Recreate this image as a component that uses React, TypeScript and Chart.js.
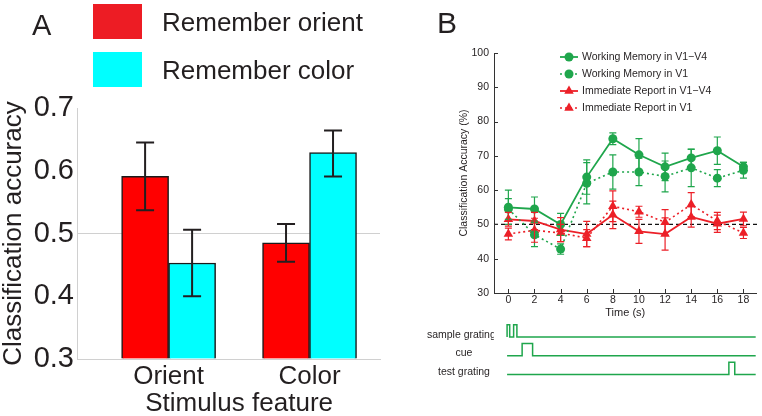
import React, { useEffect, useRef } from 'react';
import { Chart, registerables } from 'chart.js';

Chart.register(...registerables);

const FONT = '"Liberation Sans", Arial, Helvetica, sans-serif';
const INK = '#231f20';
const AXIS_GRAY = '#d0d0d0';
const BAR_EDGE = '#1a1a1a';
const RED_BAR = '#ff0000';
const CYAN_BAR = '#00ffff';
const RED_KEY = '#ed1c24';
const CYAN_KEY = '#00ffff';
const GREEN = '#1fa64c';
const RED = '#ec2028';

// ---------- Panel A data ----------
const featureLabels = ['Orient', 'Color'];
const featurePos = [1, 2];
const orientMean = [0.591, 0.485];
const orientLow = [0.537, 0.455];
const orientHigh = [0.645, 0.515];
const colorMean = [0.453, 0.629];
const colorLow = [0.4, 0.591];
const colorHigh = [0.506, 0.664];
const accuracyTicks = [0.3, 0.4, 0.5, 0.6, 0.7];
const chanceA = 0.5;

// ---------- Panel B data ----------
const timeTicks = [0, 2, 4, 6, 8, 10, 12, 14, 16, 18];
const accTicksB = [30, 40, 50, 60, 70, 80, 90, 100];
const wmAll = [55, 54.5, 50, 63.8, 75, 70.3, 66.8, 69.4, 71.5, 66.8];
const wmAllErr = [5, 3.5, 3.2, 5, 1.7, 4.7, 4, 2.5, 4, 1.3];
const wmV1 = [54.5, 47, 42.8, 62, 65.3, 65.3, 64, 66.5, 63.5, 65.8];
const wmV1Err = [3, 3.5, 1.5, 6, 5, 4, 4.5, 5.5, 2.5, 2.3];
const irAll = [51.5, 51, 48.5, 47.2, 52.8, 48, 47.2, 52.2, 50.2, 51.6];
const irAllErr = [2, 2.5, 3.5, 3.7, 4, 3.5, 4.7, 3, 2.5, 2];
const irV1 = [47.2, 48.3, 47.5, 46, 55.3, 53.7, 50.6, 55.8, 51, 47.5];
const irV1Err = [1.7, 3.5, 2.5, 2.5, 4.5, 1.6, 3.7, 3.5, 2.5, 1.6];
const chanceB = 50;

// ---------- Trial timeline ----------
const traceNames = ['sample gratings', 'cue', 'test grating'];
const traceOn = [
  [[-0.1, 0.1], [0.4, 0.65]],
  [[1.05, 1.85]],
  [[16.85, 17.3]],
];
const traceSpan = [-0.1, 18.9];
const pulseHeight = 0.65;

const X_MIN_B = -1.1;
const X_MAX_B = 19;

function drawMarker(ctx: any, style: string, x: number, y: number, r: number, color: string) {
  ctx.save();
  ctx.fillStyle = color;
  ctx.beginPath();
  if (style === 'triangle') {
    for (let k = 0; k < 3; k++) {
      const a = k * (2 * Math.PI / 3);
      const px = x + Math.sin(a) * r;
      const py = y - Math.cos(a) * r;
      if (k === 0) ctx.moveTo(px, py); else ctx.lineTo(px, py);
    }
    ctx.closePath();
  } else {
    ctx.arc(x, y, r, 0, Math.PI * 2);
  }
  ctx.fill();
  ctx.restore();
}

const panelAPlugin = {
  id: 'panelA',
  afterDatasetsDraw(chart: any) {
    const ctx = chart.ctx;
    const y = chart.scales.y;
    chart.data.datasets.forEach((ds: any, di: number) => {
      const meta = chart.getDatasetMeta(di);
      meta.data.forEach((bar: any, i: number) => {
        const top = y.getPixelForValue(ds.errHigh[i]);
        const bot = y.getPixelForValue(ds.errLow[i]);
        ctx.save();
        ctx.strokeStyle = INK;
        ctx.lineWidth = 2;
        ctx.beginPath();
        ctx.moveTo(bar.x, top); ctx.lineTo(bar.x, bot);
        ctx.moveTo(bar.x - 9, top); ctx.lineTo(bar.x + 9, top);
        ctx.moveTo(bar.x - 9, bot); ctx.lineTo(bar.x + 9, bot);
        ctx.stroke();
        ctx.restore();
      });
    });
  },
  afterDraw(chart: any) {
    const ctx = chart.ctx;
    ctx.save();
    ctx.fillStyle = INK;
    ctx.textBaseline = 'alphabetic';
    ctx.textAlign = 'left';
    // panel letter
    ctx.font = `29px ${FONT}`;
    ctx.fillText('A', 32, 35);
    // legend
    ctx.font = `26px ${FONT}`;
    chart.data.datasets.forEach((ds: any, i: number) => {
      const top = 4 + i * 48;
      ctx.fillStyle = ds.keyColor;
      ctx.fillRect(93, top, 49, 35);
      ctx.fillStyle = INK;
      ctx.fillText(ds.label, 162, top + 27);
    });
    // axis title centred under the bar groups
    const m0 = chart.getDatasetMeta(0).data[0];
    const ml = chart.getDatasetMeta(chart.data.datasets.length - 1).data;
    const last = ml[ml.length - 1];
    const cx = ((m0.x - m0.width / 2) + (last.x + last.width / 2)) / 2;
    ctx.textAlign = 'center';
    ctx.fillText('Stimulus feature', cx, 410.5);
    ctx.restore();
  },
};

const panelBPlugin = {
  id: 'panelB',
  beforeDatasetsDraw(chart: any) {
    const { ctx, chartArea } = chart;
    const py = chart.scales.y.getPixelForValue(chanceB);
    ctx.save();
    ctx.strokeStyle = '#111';
    ctx.lineWidth = 1.3;
    ctx.setLineDash([4, 3]);
    ctx.beginPath();
    ctx.moveTo(chartArea.left, py);
    ctx.lineTo(chartArea.right + 2, py);
    ctx.stroke();
    ctx.restore();
  },
  afterDatasetsDraw(chart: any) {
    const ctx = chart.ctx;
    const y = chart.scales.y;
    chart.data.datasets.forEach((ds: any, di: number) => {
      const meta = chart.getDatasetMeta(di);
      meta.data.forEach((pt: any, i: number) => {
        const v = ds.data[i].y;
        const top = y.getPixelForValue(v + ds.err[i]);
        const bot = y.getPixelForValue(v - ds.err[i]);
        ctx.save();
        ctx.strokeStyle = ds.borderColor;
        ctx.lineWidth = 1.2;
        ctx.beginPath();
        ctx.moveTo(pt.x, top); ctx.lineTo(pt.x, bot);
        ctx.moveTo(pt.x - 3.5, top); ctx.lineTo(pt.x + 3.5, top);
        ctx.moveTo(pt.x - 3.5, bot); ctx.lineTo(pt.x + 3.5, bot);
        ctx.stroke();
        ctx.restore();
      });
    });
  },
  afterDraw(chart: any) {
    const { ctx, chartArea } = chart;
    ctx.save();
    // inward tick marks
    ctx.strokeStyle = '#333';
    ctx.lineWidth = 1;
    ctx.beginPath();
    chart.scales.y.ticks.forEach((t: any) => {
      const py = Math.round(chart.scales.y.getPixelForValue(t.value)) + 0.5;
      ctx.moveTo(chartArea.left, py); ctx.lineTo(chartArea.left + 4, py);
    });
    chart.scales.x.ticks.forEach((t: any) => {
      const px = Math.round(chart.scales.x.getPixelForValue(t.value)) + 0.5;
      ctx.moveTo(px, chartArea.bottom); ctx.lineTo(px, chartArea.bottom - 4);
    });
    ctx.stroke();
    // panel letter
    ctx.fillStyle = INK;
    ctx.font = `30px ${FONT}`;
    ctx.textAlign = 'left';
    ctx.textBaseline = 'alphabetic';
    ctx.fillText('B', 7, 33);
    // legend
    ctx.font = `10.5px ${FONT}`;
    ctx.textBaseline = 'middle';
    const x0 = chartArea.left + 66;
    chart.data.datasets.forEach((ds: any, i: number) => {
      const yy = chartArea.top + 4 + i * 17;
      ctx.save();
      ctx.strokeStyle = ds.borderColor;
      ctx.lineWidth = ds.borderWidth;
      ctx.setLineDash(ds.borderDash || []);
      ctx.beginPath();
      ctx.moveTo(x0, yy); ctx.lineTo(x0 + 18, yy);
      ctx.stroke();
      ctx.restore();
      drawMarker(ctx, ds.pointStyle, x0 + 9, yy, ds.pointRadius, ds.borderColor);
      ctx.fillStyle = INK;
      ctx.fillText(ds.label, x0 + 22, yy + 0.5);
    });
    ctx.restore();
  },
};

function series(vals: number[]) {
  return timeTicks.map((t, i) => ({ x: t, y: vals[i] }));
}

function traceRow(i: number) {
  return traceNames.length - 1 - i;
}

function tracePoints(i: number) {
  const r = traceRow(i);
  const pts: any[] = [{ x: traceSpan[0], y: r }];
  traceOn[i].forEach(([s, e]) => {
    pts.push({ x: s, y: r }, { x: s, y: r + pulseHeight }, { x: e, y: r + pulseHeight }, { x: e, y: r });
  });
  pts.push({ x: traceSpan[1], y: r });
  return pts;
}

function makeA(canvas: HTMLCanvasElement) {
  return new Chart(canvas, {
    type: 'bar',
    data: {
      datasets: [
        {
          label: 'Remember orient',
          data: featurePos.map((x, i) => ({ x, y: orientMean[i] })),
          backgroundColor: RED_BAR,
          keyColor: RED_KEY,
          borderColor: BAR_EDGE,
          borderWidth: 1.5,
          barThickness: 47,
          base: accuracyTicks[0],
          errLow: orientLow,
          errHigh: orientHigh,
        } as any,
        {
          label: 'Remember color',
          data: featurePos.map((x, i) => ({ x, y: colorMean[i] })),
          backgroundColor: CYAN_BAR,
          keyColor: CYAN_KEY,
          borderColor: BAR_EDGE,
          borderWidth: 1.5,
          barThickness: 47,
          base: accuracyTicks[0],
          errLow: colorLow,
          errHigh: colorHigh,
        } as any,
      ],
    },
    options: {
      responsive: false,
      animation: false,
      devicePixelRatio: 1,
      layout: { padding: { left: 0, top: 108, right: 10, bottom: 0 } },
      plugins: { legend: { display: false }, tooltip: { enabled: false } },
      scales: {
        x: {
          type: 'linear',
          min: 0.35,
          max: 2.5,
          offset: false,
          grid: { display: false, drawTicks: false },
          border: { display: true, color: AXIS_GRAY, width: 1 },
          ticks: {
            color: INK,
            font: { size: 26 },
            padding: 2,
            callback: (v: any) => featureLabels[featurePos.indexOf(Number(v))] ?? '',
          },
          afterBuildTicks: (s: any) => { s.ticks = featurePos.map((v) => ({ value: v })); },
          afterFit: (s: any) => { s.height = 57; },
        },
        y: {
          type: 'linear',
          min: accuracyTicks[0],
          max: accuracyTicks[accuracyTicks.length - 1],
          grid: {
            drawTicks: false,
            lineWidth: 1,
            color: (c: any) => (c.tick && Math.abs(c.tick.value - chanceA) < 1e-9 ? AXIS_GRAY : 'rgba(0,0,0,0)'),
          },
          border: { display: true, color: AXIS_GRAY, width: 1 },
          ticks: {
            color: INK,
            font: { size: 29 },
            padding: 3,
            callback: (v: any) => Number(v).toFixed(1),
          },
          afterBuildTicks: (s: any) => { s.ticks = accuracyTicks.map((v) => ({ value: v })); },
          title: {
            display: true,
            text: 'Classification accuracy',
            color: INK,
            font: { size: 26, lineHeight: 1 },
            padding: { top: 1, bottom: 0 },
          },
          afterFit: (s: any) => { s.width = 77; },
        },
      },
    } as any,
    plugins: [panelAPlugin],
  });
}

function makeB(canvas: HTMLCanvasElement) {
  const mk = (label: string, vals: number[], err: number[], color: string, dash: number[], style: string, r: number, w: number) => ({
    label,
    data: series(vals),
    err,
    borderColor: color,
    backgroundColor: color,
    borderWidth: w,
    borderDash: dash,
    pointStyle: style,
    pointRadius: r,
    pointBorderWidth: 0,
    pointBackgroundColor: color,
    tension: 0,
  });
  return new Chart(canvas, {
    type: 'line',
    data: {
      datasets: [
        mk('Working Memory in V1\u2212V4', wmAll, wmAllErr, GREEN, [], 'circle', 4.5, 1.8),
        mk('Working Memory in V1', wmV1, wmV1Err, GREEN, [2, 3], 'circle', 4.5, 1.6),
        mk('Immediate Report in V1\u2212V4', irAll, irAllErr, RED, [], 'triangle', 5.5, 1.8),
        mk('Immediate Report in V1', irV1, irV1Err, RED, [2, 3], 'triangle', 5.5, 1.6),
      ] as any,
    },
    options: {
      responsive: false,
      animation: false,
      devicePixelRatio: 1,
      layout: { padding: { left: 0, top: 53, right: 5, bottom: 0 } },
      plugins: { legend: { display: false }, tooltip: { enabled: false } },
      scales: {
        x: {
          type: 'linear',
          min: X_MIN_B,
          max: X_MAX_B,
          grid: { display: false, drawTicks: false },
          border: { display: true, color: '#333', width: 1 },
          ticks: { color: INK, font: { size: 10.5 }, padding: 1, maxRotation: 0 },
          afterBuildTicks: (s: any) => { s.ticks = timeTicks.map((v) => ({ value: v })); },
          title: {
            display: true,
            text: 'Time (s)',
            color: INK,
            font: { size: 11 },
            padding: { top: 0, bottom: 2.4 },
          },
          afterFit: (s: any) => { s.height = 29; },
        },
        y: {
          type: 'linear',
          min: accTicksB[0],
          max: accTicksB[accTicksB.length - 1],
          grid: { display: false, drawTicks: false },
          border: { display: true, color: '#333', width: 1 },
          ticks: { color: INK, font: { size: 10.5 }, padding: 5 },
          afterBuildTicks: (s: any) => { s.ticks = accTicksB.map((v) => ({ value: v })); },
          title: {
            display: true,
            text: 'Classification Accuracy (%)',
            color: INK,
            font: { size: 10.5 },
            padding: { top: 27.5, bottom: 0 },
          },
          afterFit: (s: any) => { s.width = 64; },
        },
      },
    } as any,
    plugins: [panelBPlugin],
  });
}

function makeTimeline(canvas: HTMLCanvasElement) {
  return new Chart(canvas, {
    type: 'line',
    data: {
      datasets: traceNames.map((name, i) => ({
        label: name,
        data: tracePoints(i),
        borderColor: GREEN,
        borderWidth: 1.5,
        pointRadius: 0,
        tension: 0,
      })) as any,
    },
    options: {
      responsive: false,
      animation: false,
      devicePixelRatio: 1,
      layout: { padding: { left: 0, top: 8, right: 5, bottom: 8 } },
      plugins: { legend: { display: false }, tooltip: { enabled: false } },
      scales: {
        x: {
          type: 'linear',
          min: X_MIN_B,
          max: X_MAX_B,
          display: false,
        },
        y: {
          type: 'linear',
          min: -0.4,
          max: 2.9,
          grid: { display: false, drawTicks: false },
          border: { display: false },
          ticks: {
            color: INK,
            font: { size: 10.5 },
            crossAlign: 'center',
            padding: -7,
            callback: (_v: any, idx: number) => traceNames[idx],
          },
          afterBuildTicks: (s: any) => { s.ticks = traceNames.map((_, i) => ({ value: traceRow(i) + 0.12 })); },
          afterFit: (s: any) => { s.width = 94; },
        },
      },
    } as any,
  });
}

export default function App() {
  const aRef = useRef<HTMLCanvasElement>(null);
  const bRef = useRef<HTMLCanvasElement>(null);
  const tRef = useRef<HTMLCanvasElement>(null);

  useEffect(() => {
    Chart.defaults.font.family = FONT;
    Chart.defaults.color = INK;
    const charts = [
      makeA(aRef.current as HTMLCanvasElement),
      makeB(bRef.current as HTMLCanvasElement),
      makeTimeline(tRef.current as HTMLCanvasElement),
    ];
    return () => charts.forEach((c) => c.destroy());
  }, []);

  return (
    <div style={{ position: 'absolute', left: 0, top: 0, width: 762, height: 416, background: '#fff', overflow: 'hidden' }}>
      <canvas ref={aRef} width={390} height={416} style={{ position: 'absolute', left: 0, top: 0, width: 390, height: 416 }} />
      <canvas ref={bRef} width={332} height={322} style={{ position: 'absolute', left: 430, top: 0, width: 332, height: 322 }} />
      <canvas ref={tRef} width={362} height={78} style={{ position: 'absolute', left: 400, top: 312, width: 362, height: 78 }} />
    </div>
  );
}
